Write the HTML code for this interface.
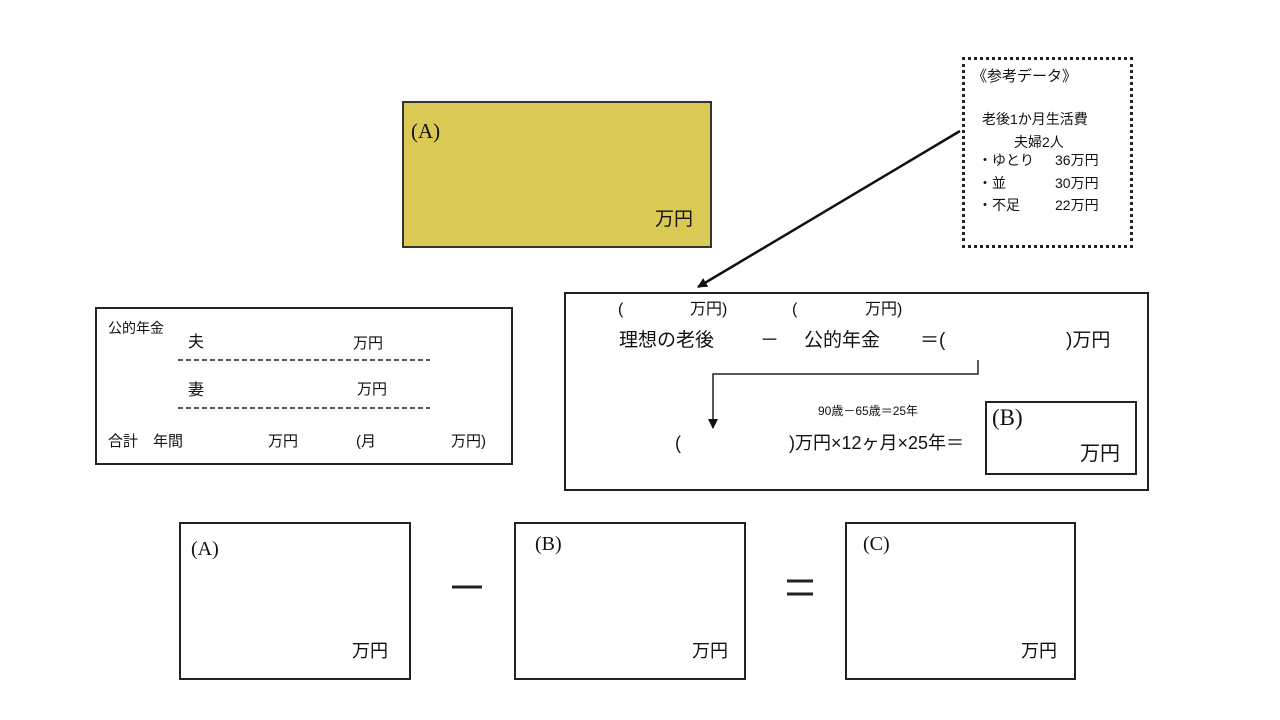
<!DOCTYPE html>
<html><head><meta charset="utf-8"><style>
body{margin:0;width:1280px;height:720px;background:#fff;position:relative;overflow:hidden;font-family:"Liberation Sans","Noto Sans CJK JP",sans-serif;color:#111}
.t{position:absolute;white-space:nowrap;line-height:1}
.s{font-family:"Liberation Serif","Noto Serif CJK SC",serif;}
.b{position:absolute;border:2px solid #222;box-sizing:border-box}
</style></head><body>
<div class="b" style="left:402px;top:101px;width:310px;height:147px;background:#dbc955;border-color:#333"></div>
<div class="t s" style="left:411px;top:121px;font-size:21px">(A)</div>
<div class="t" style="left:655px;top:210px;font-size:19px">万円</div>

<div class="b" style="left:962px;top:57px;width:171px;height:191px;border:3px dotted #222"></div>
<div class="t" style="left:972px;top:69px;font-size:15px">《参考データ》</div>
<div class="t" style="left:982px;top:112px;font-size:14px">老後1か月生活費</div>
<div class="t" style="left:1014px;top:135px;font-size:14px">夫婦2人</div>
<div class="t" style="left:978px;top:153px;font-size:14px">・ゆとり</div><div class="t" style="left:1055px;top:153px;font-size:14px">36万円</div>
<div class="t" style="left:978px;top:176px;font-size:14px">・並</div><div class="t" style="left:1055px;top:176px;font-size:14px">30万円</div>
<div class="t" style="left:978px;top:198px;font-size:14px">・不足</div><div class="t" style="left:1055px;top:198px;font-size:14px">22万円</div>

<div class="b" style="left:95px;top:307px;width:418px;height:158px"></div>
<div class="t" style="left:108px;top:321px;font-size:14px">公的年金</div>
<div class="t" style="left:188px;top:335px;font-size:16px">夫</div>
<div class="t" style="left:353px;top:336px;font-size:15px">万円</div>
<div class="t" style="left:188px;top:383px;font-size:16px">妻</div>
<div class="t" style="left:357px;top:382px;font-size:15px">万円</div>
<div class="t" style="left:108px;top:434px;font-size:15px">合計　年間</div>
<div class="t" style="left:268px;top:434px;font-size:15px">万円</div>
<div class="t" style="left:356px;top:434px;font-size:15px">(月</div>
<div class="t" style="left:451px;top:434px;font-size:15px">万円)</div>

<div class="b" style="left:564px;top:292px;width:585px;height:199px"></div>
<div class="t" style="left:618px;top:302px;font-size:16px">(</div>
<div class="t" style="left:690px;top:302px;font-size:16px">万円)</div>
<div class="t" style="left:792px;top:302px;font-size:16px">(</div>
<div class="t" style="left:865px;top:302px;font-size:16px">万円)</div>
<div class="t" style="left:619px;top:331px;font-size:19px">理想の老後</div>
<div class="t" style="left:760px;top:331px;font-size:19px">－</div>
<div class="t" style="left:804px;top:331px;font-size:19px">公的年金</div>
<div class="t" style="left:920px;top:331px;font-size:19px">＝(</div>
<div class="t" style="left:1066px;top:331px;font-size:19px">)万円</div>
<div class="t" style="left:818px;top:405px;font-size:12px">90歳－65歳＝25年</div>
<div class="t" style="left:675px;top:434px;font-size:18px">(</div>
<div class="t" style="left:789px;top:434px;font-size:18px">)万円×12ヶ月×25年＝</div>
<div class="b" style="left:985px;top:401px;width:152px;height:74px;background:#fff"></div>
<div class="t s" style="left:992px;top:406px;font-size:23px">(B)</div>
<div class="t" style="left:1080px;top:444px;font-size:20px">万円</div>

<svg style="position:absolute;left:0;top:0" width="1280" height="720">
<defs><marker id="a" markerWidth="10" markerHeight="10" refX="9" refY="5" orient="auto" markerUnits="userSpaceOnUse"><path d="M0,0 L10,5 L0,10z" fill="#111"/></marker></defs>
<line x1="960" y1="131" x2="698" y2="287" stroke="#111" stroke-width="2.5" marker-end="url(#a)"/>
<path d="M978,360 V374 H713 V428" fill="none" stroke="#222" stroke-width="1.5" marker-end="url(#a)"/>
<line x1="178" y1="360" x2="430" y2="360" stroke="#222" stroke-width="1.5" stroke-dasharray="5,3"/>
<line x1="178" y1="408" x2="430" y2="408" stroke="#222" stroke-width="1.5" stroke-dasharray="5,3"/>
<line x1="452" y1="587" x2="482" y2="587" stroke="#222" stroke-width="3"/>
<line x1="787" y1="581" x2="813" y2="581" stroke="#222" stroke-width="3"/>
<line x1="787" y1="594" x2="813" y2="594" stroke="#222" stroke-width="3"/>
</svg>

<div class="b" style="left:179px;top:522px;width:232px;height:158px"></div>
<div class="t s" style="left:191px;top:539px;font-size:20px">(A)</div>
<div class="t" style="left:352px;top:642px;font-size:18px">万円</div>
<div class="b" style="left:514px;top:522px;width:232px;height:158px"></div>
<div class="t s" style="left:535px;top:534px;font-size:20px">(B)</div>
<div class="t" style="left:692px;top:642px;font-size:18px">万円</div>
<div class="b" style="left:845px;top:522px;width:231px;height:158px"></div>
<div class="t s" style="left:863px;top:534px;font-size:20px">(C)</div>
<div class="t" style="left:1021px;top:642px;font-size:18px">万円</div>
</body></html>
